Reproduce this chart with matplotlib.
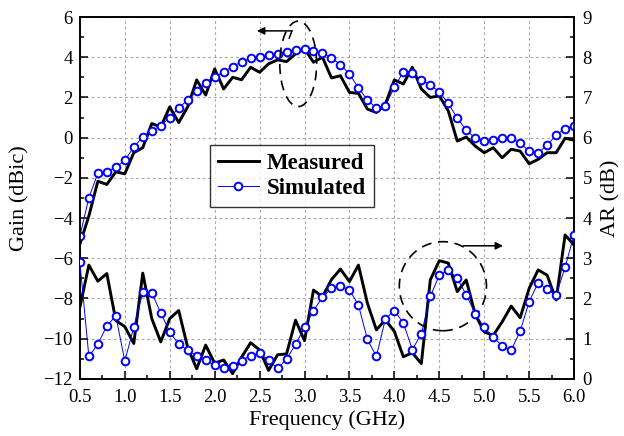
import matplotlib
matplotlib.use("Agg")
import matplotlib.pyplot as plt
from matplotlib.patches import Ellipse
from matplotlib.ticker import MultipleLocator, FormatStrFormatter

plt.rcParams["font.family"] = "serif"
plt.rcParams["font.serif"] = ["Liberation Serif", "DejaVu Serif"]

FREQ = [0.5, 0.6, 0.7, 0.8, 0.9, 1.0, 1.1, 1.2, 1.3, 1.4,
        1.5, 1.6, 1.7, 1.8, 1.9, 2.0, 2.1, 2.2, 2.3, 2.4,
        2.5, 2.6, 2.7, 2.8, 2.9, 3.0, 3.1, 3.2, 3.3, 3.4,
        3.5, 3.6, 3.7, 3.8, 3.9, 4.0, 4.1, 4.2, 4.3, 4.4,
        4.5, 4.6, 4.7, 4.8, 4.9, 5.0, 5.1, 5.2, 5.3, 5.4,
        5.5, 5.6, 5.7, 5.8, 5.9, 6.0]

GAIN_MEAS = [-5.3, -3.9, -2.17, -2.33, -1.7, -1.8, -0.75, -0.5, 0.7, 0.53,
             1.53, 0.75, 1.53, 2.87, 2.12, 3.42, 2.42, 3.0, 2.88, 3.5,
             3.25, 3.67, 3.87, 3.78, 4.17, 4.42, 3.75, 4.0, 2.97, 3.08,
             2.25, 2.2, 1.42, 1.25, 1.67, 2.87, 2.67, 3.5, 2.42, 2.0,
             2.08, 1.33, -0.17, 0.03, -0.42, -0.75, -0.5, -1.0, -0.58, -0.67,
             -1.3, -1.08, -0.75, -0.75, -0.03, -0.13]

GAIN_SIM = [-4.9, -3.0, -1.77, -1.7, -1.47, -1.13, -0.47, 0.03, 0.33, 0.6,
            1.0, 1.47, 1.88, 2.33, 2.7, 3.0, 3.28, 3.53, 3.78, 3.95,
            4.03, 4.12, 4.18, 4.28, 4.37, 4.42, 4.33, 4.2, 3.97, 3.63,
            3.17, 2.47, 1.87, 1.47, 1.58, 2.5, 3.28, 3.2, 2.87, 2.62,
            2.28, 1.7, 0.97, 0.37, -0.03, -0.18, -0.13, -0.03, -0.03, -0.27,
            -0.67, -0.77, -0.38, 0.13, 0.45, 0.57]

AR_MEAS = [1.78, 2.83, 2.43, 2.62, 1.45, 1.3, 0.88, 2.63, 1.5, 0.92,
           1.5, 1.7, 0.78, 0.25, 0.84, 0.39, 0.47, 0.13, 0.54, 0.9,
           0.72, 0.21, 0.6, 0.62, 1.46, 0.95, 2.21, 2.04, 2.47, 2.73,
           2.42, 2.83, 1.88, 1.22, 1.47, 1.18, 0.55, 0.65, 0.38, 2.46,
           2.94, 2.88, 2.17, 2.46, 1.6, 1.17, 1.08, 1.42, 1.81, 1.52,
           2.25, 2.71, 2.58, 1.96, 3.58, 3.33]

AR_SIM = [2.9, 0.56, 0.86, 1.32, 1.57, 0.44, 1.29, 2.15, 2.14, 1.64,
          1.17, 0.86, 0.71, 0.58, 0.46, 0.34, 0.27, 0.31, 0.45, 0.58,
          0.64, 0.47, 0.26, 0.49, 0.86, 1.28, 1.7, 2.03, 2.25, 2.31,
          2.21, 1.84, 0.98, 0.56, 1.49, 1.7, 1.39, 0.73, 1.12, 2.05,
          2.58, 2.71, 2.5, 2.09, 1.62, 1.28, 1.04, 0.82, 0.71, 1.19,
          1.92, 2.39, 2.23, 2.08, 2.78, 3.58]

BLUE = "#0000ff"


def style_axis(ax):
    ax.tick_params(which="both", direction="in", labelsize=13.5, width=1.1)
    ax.tick_params(which="major", length=6)
    ax.tick_params(which="minor", length=3)
    for spine in ax.spines.values():
        spine.set_linewidth(1.2)


fig = plt.figure(figsize=(6.24, 4.36), dpi=100)
ax = fig.add_axes([0.128, 0.131, 0.792, 0.830])
ax2 = ax.twinx()

meas_kw = dict(color="black", lw=2.1, zorder=3)
sim_kw = dict(color=BLUE, lw=0.7, marker="o", ms=5.5, mfc="white",
              mec=BLUE, mew=1.4, zorder=4)

ax.plot(FREQ, GAIN_MEAS, **meas_kw)
ax.plot(FREQ, GAIN_SIM, **sim_kw)
ax2.plot(FREQ, AR_MEAS, label="Measured", **meas_kw)
ax2.plot(FREQ, AR_SIM, label="Simulated", **sim_kw)

ax.set_xlim(0.5, 6.0)
ax.set_ylim(-12, 6)
ax2.set_ylim(0, 9)

ax.xaxis.set_major_locator(MultipleLocator(0.5))
ax.xaxis.set_minor_locator(MultipleLocator(0.25))
ax.yaxis.set_major_locator(MultipleLocator(2))
ax.yaxis.set_minor_locator(MultipleLocator(1))
ax2.yaxis.set_major_locator(MultipleLocator(1))
ax2.yaxis.set_minor_locator(MultipleLocator(0.5))
ax.xaxis.set_major_formatter(FormatStrFormatter("%.1f"))

style_axis(ax)
style_axis(ax2)
ax.tick_params(top=False, which="both")
ax.tick_params(axis="x", pad=7)
ax.tick_params(axis="y", pad=5)
ax2.tick_params(axis="y", pad=6)

ax.grid(True, which="major", color="#a8a8a8", ls=(0, (2.5, 2.5)), lw=0.8)
ax.set_axisbelow(True)

ax.set_xlabel("Frequency (GHz)", fontsize=16, labelpad=3)
ax.set_ylabel("Gain (dBic)", fontsize=16, labelpad=10)
ax2.set_ylabel("AR (dB)", fontsize=16, labelpad=7)

# dashed markers pointing each pair of curves to its own axis
ax.add_patch(Ellipse((2.93, 3.67), 0.41, 4.25, fill=False, ec="black",
                     lw=1.2, ls=(0, (6, 4)), zorder=5))
ax.annotate("", xy=(2.47, 5.31), xytext=(2.86, 5.31),
            arrowprops=dict(arrowstyle="-|>", color="black", lw=1.1,
                            mutation_scale=11, shrinkA=0, shrinkB=0))
ax.plot([2.86, 2.83], [5.31, 4.95], color="black", lw=1.1)

ax.add_patch(Ellipse((4.54, -7.39), 0.97, 4.43, fill=False, ec="black",
                     lw=1.2, ls=(0, (6, 4)), zorder=5))
ax.annotate("", xy=(5.21, -5.38), xytext=(4.77, -5.38),
            arrowprops=dict(arrowstyle="-|>", color="black", lw=1.1,
                            mutation_scale=11, shrinkA=0, shrinkB=0))

leg = ax2.legend(loc="upper left", bbox_to_anchor=(0.263, 0.646),
                 borderaxespad=0, prop=dict(weight="bold", size=16.5),
                 frameon=True, fancybox=False, edgecolor="black",
                 handlelength=1.8, borderpad=0.35, labelspacing=0.15,
                 handletextpad=0.35)
leg.get_frame().set_linewidth(1.0)
leg.set_zorder(10)

fig.savefig("out.png", dpi=100)
